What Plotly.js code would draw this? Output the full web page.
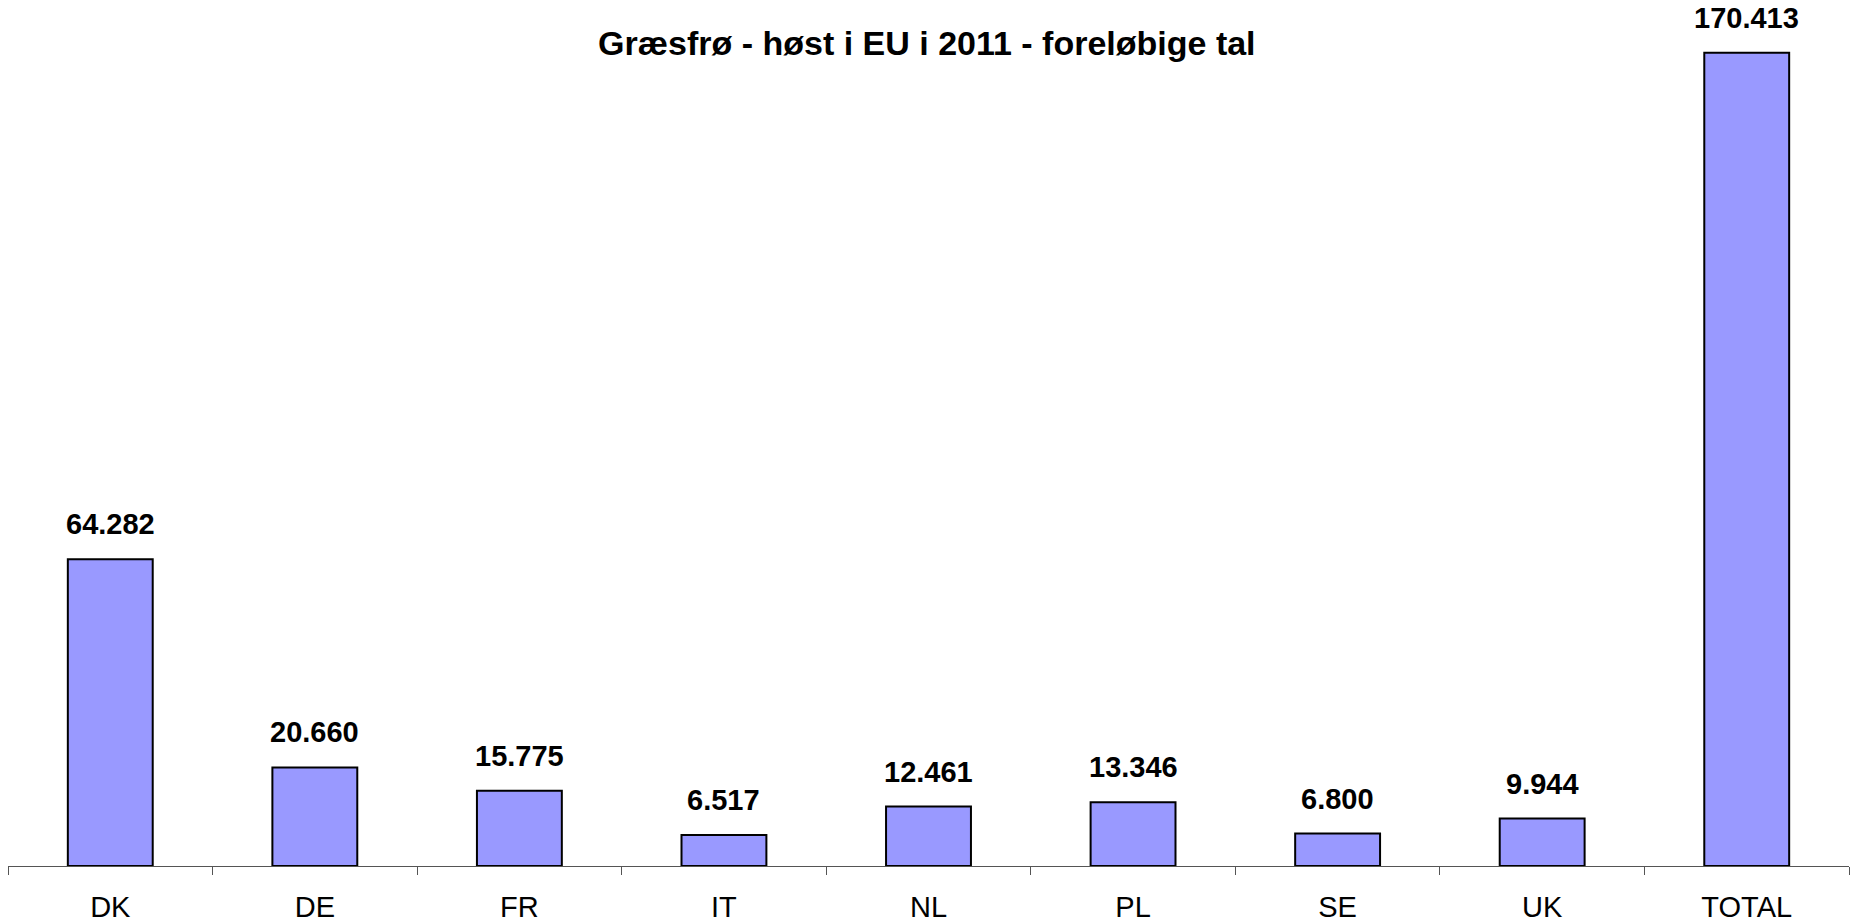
<!DOCTYPE html>
<html><head><meta charset="utf-8">
<script src="https://cdn.plot.ly/plotly-3.0.1.min.js"></script>
<style>html,body{margin:0;padding:0;background:#fff}#c{width:1850px;height:924px}</style>
</head><body><div id="c"></div>
<script>
const categories = ["DK","DE","FR","IT","NL","PL","SE","UK","TOTAL"];
const values = [64.282, 20.660, 15.775, 6.517, 12.461, 13.346, 6.800, 9.944, 170.413];
const valueLabels = ["64.282","20.660","15.775","6.517","12.461","13.346","6.800","9.944","170.413"];
const chartTitle = "Græsfrø - høst i EU i 2011 - foreløbige tal";

const trace = {
  type: "bar", x: categories, y: values,
  marker: {color: "#9999FF", line: {color: "#000000", width: 2}},
  width: 0.415, hoverinfo: "none"
};
const annotations = categories.map((c, i) => ({
  x: c, y: values[i], xref: "x", yref: "y", text: "<b>" + valueLabels[i] + "</b>",
  showarrow: false, yanchor: "bottom", yshift: 17,
  font: {family: "Liberation Sans, Arial, sans-serif", size: 29, color: "#000"}
}));
const layout = {
  width: 1850, height: 924,
  margin: {l: 8, r: 1, t: 7, b: 58},
  paper_bgcolor: "#fff", plot_bgcolor: "#fff",
  title: {text: "<b>" + chartTitle + "</b>", x: 0.501, xanchor: "center", y: 0.953, yanchor: "middle",
    font: {family: "Liberation Sans, Arial, sans-serif", size: 34, color: "#000"}},
  showlegend: false,
  xaxis: {type: "category", range: [-0.5, 8.5], showline: true, linecolor: "#555", linewidth: 1,
    ticks: "outside", tickson: "boundaries", ticklen: 8, tickcolor: "#555", showgrid: false,
    ticklabelstandoff: 15,
    tickfont: {family: "Liberation Sans, Arial, sans-serif", size: 29, color: "#000"}},
  yaxis: {range: [0, 180], visible: false, showgrid: false, zeroline: false},
  annotations: annotations
};
Plotly.newPlot("c", [trace], layout, {staticPlot: true});
</script></body></html>
